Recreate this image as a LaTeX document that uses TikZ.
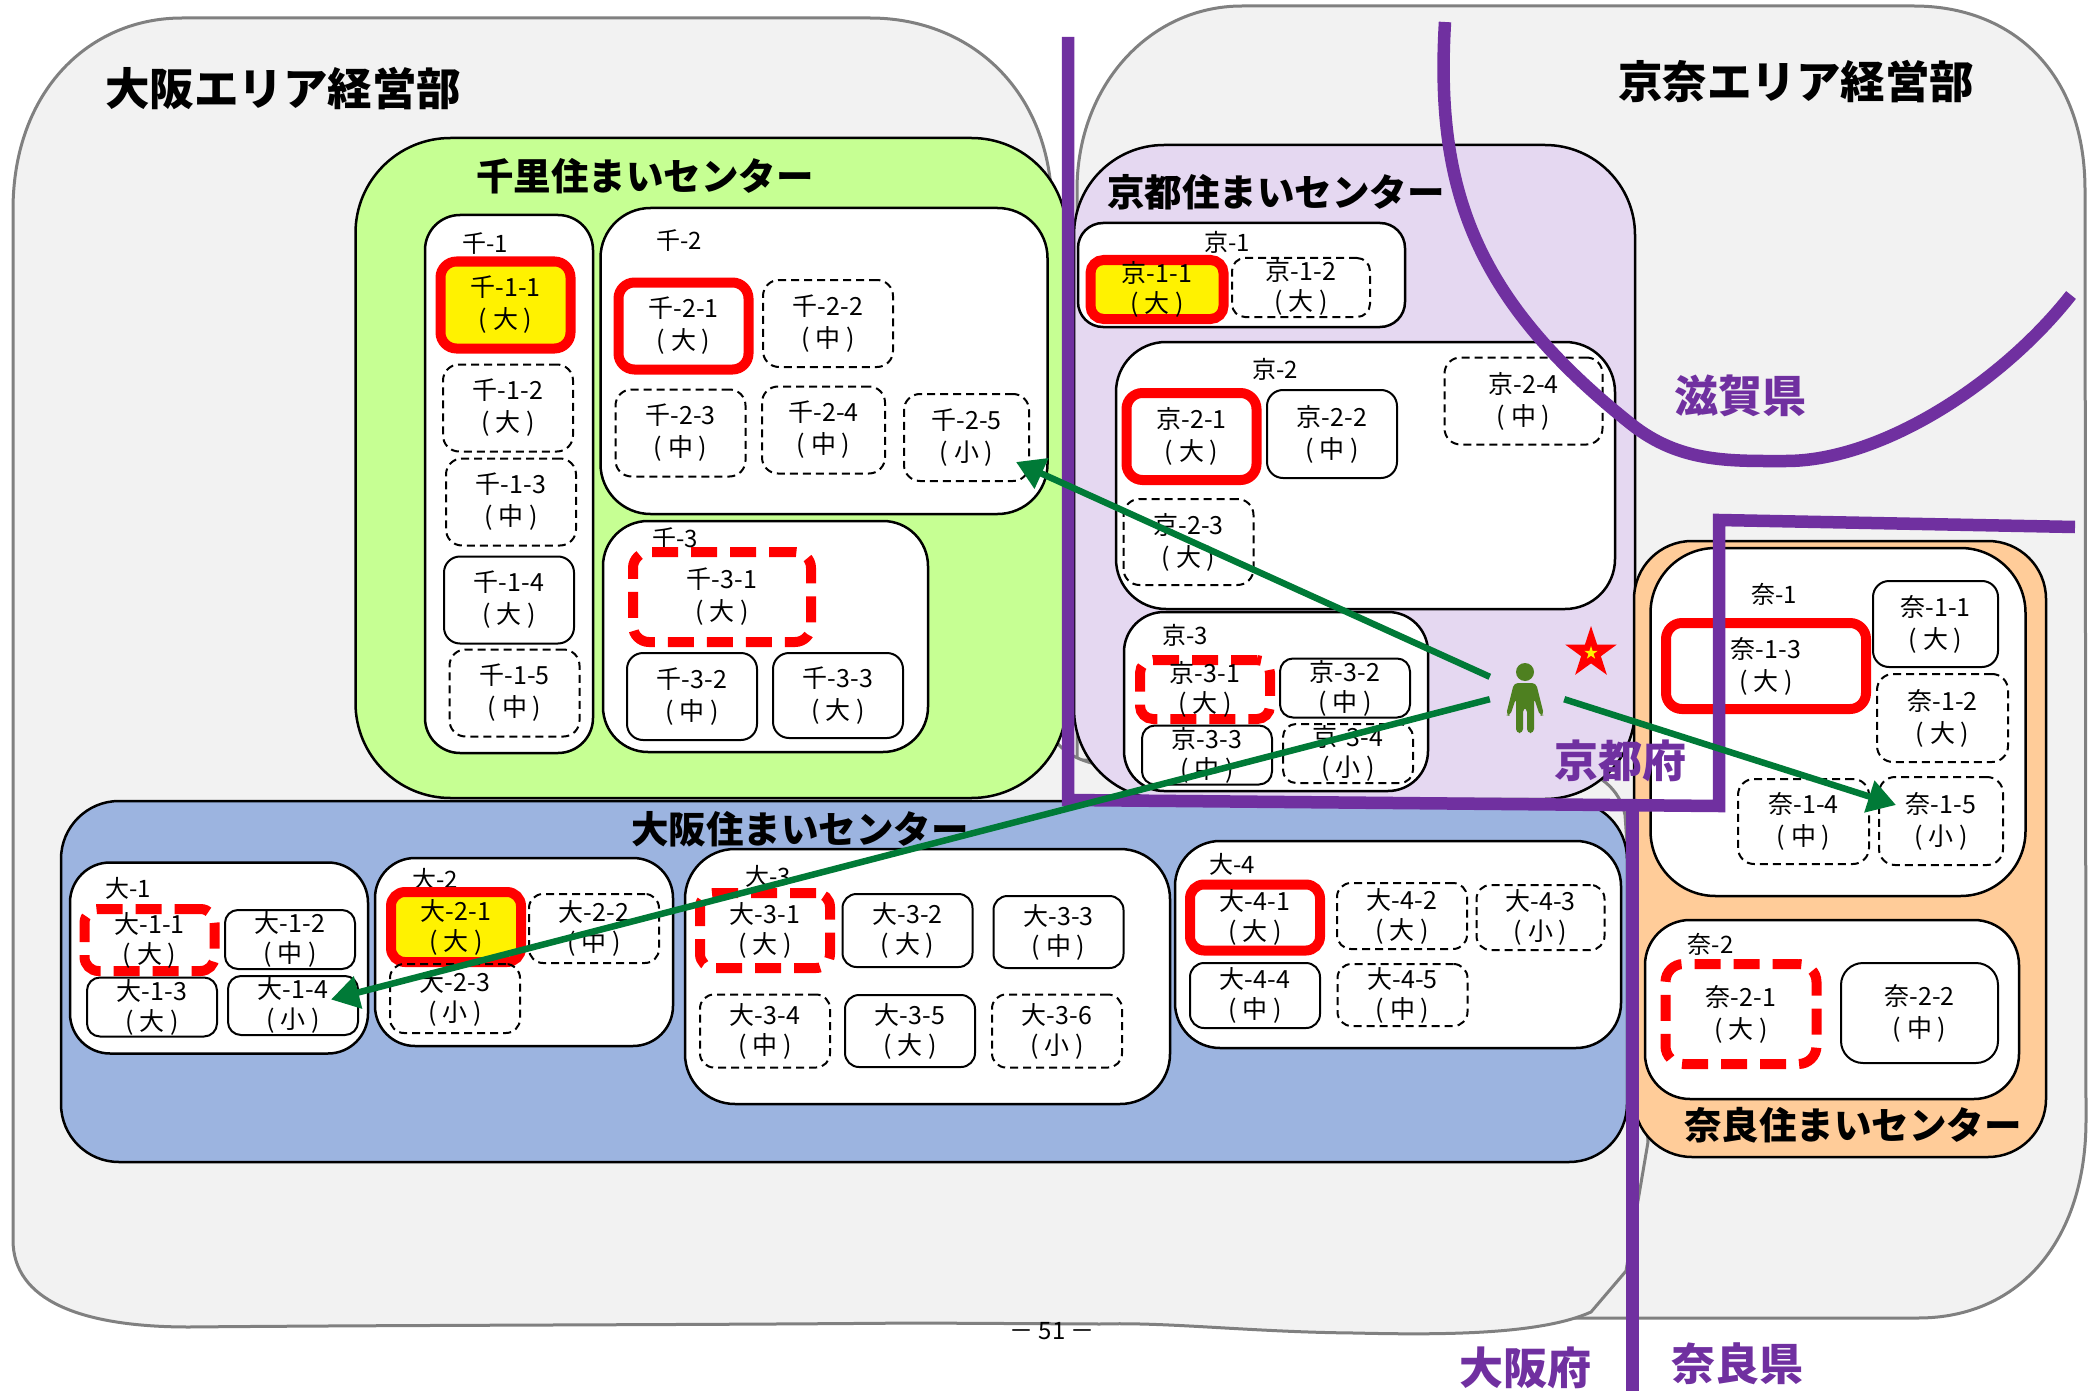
\documentclass[tikz,border=0pt]{standalone}
\usepackage{fontspec}
\setmainfont{Noto Sans CJK JP}
\usetikzlibrary{calc,arrows.meta,shapes.geometric}
\definecolor{areagray}{HTML}{F2F2F2}
\definecolor{senrigreen}{HTML}{C6FF93}
\definecolor{kyotolilac}{HTML}{E5D8F1}
\definecolor{osakablue}{HTML}{9CB4E0}
\definecolor{naraorange}{HTML}{FFCC99}
\definecolor{borderpurple}{HTML}{7030A0}
\definecolor{arrowgreen}{HTML}{007A37}
\definecolor{persongreen}{HTML}{4E8020}

\begin{document}
\begin{tikzpicture}[x=1pt,y=-1pt,
        area/.style={draw=black!50,line width=3pt,fill=areagray},
        hub/.style={draw=black,line width=2.5pt,inner sep=0pt},
        group/.style={hub,fill=white,line width=2.5pt},
        unit/.style={draw=black,line width=2pt,inner sep=0pt,align=center,rounded corners=16pt,minimum width=130pt,minimum height=87pt,font=\fontsize{25}{32}\selectfont},
        low/.style={minimum height=59pt,rounded corners=13pt,font=\fontsize{25}{30}\selectfont},
        mid/.style={minimum height=#1pt,rounded corners=14pt,font=\fontsize{25}{30}\selectfont},
        thin dash/.style={dash pattern=on 8pt off 5pt},
        big/.style={draw=red,line width=10pt},
        bigdash/.style={big,dash pattern=on 26pt off 13pt},
        lab/.style={inner sep=0pt,font=\fontsize{24}{30}\selectfont},
        hubtitle/.style={inner sep=0pt,font=\fontsize{37.5}{38}\selectfont\bfseries},
        areatitle/.style={inner sep=0pt,font=\fontsize{44.5}{45}\selectfont\bfseries},
        pref/.style={inner sep=0pt,text=borderpurple,font=\fontsize{44}{44}\selectfont\bfseries},
        border/.style={draw=borderpurple,line width=12.5pt},
        walk/.style={draw=arrowgreen,line width=6.5pt,-{Triangle[length=28pt,width=32pt]}}
      ]
  \useasboundingbox (0,0) rectangle (2094,1391);

  % areas
  \draw[area] (1077,190) .. controls (1077,85) and (1150,6) .. (1242,6) -- (1914,6)
    .. controls (2010,6) and (2085,70) .. (2085,190) -- (2086,1120)
    .. controls (2086,1240) and (2020,1318) .. (1918,1318) -- (1575,1318) -- (1575,760) -- (1077,760) -- cycle;
  \draw[area] (13,210) .. controls (13,90) and (90,18) .. (182,18) -- (870,18)
    .. controls (970,18) and (1052,90) .. (1052,210) -- (1052,735)
    .. controls (1060,750) and (1075,760) .. (1100,765) -- (1560,765)
    .. controls (1600,770) and (1620,790) .. (1625,815) -- (1648,1142) -- (1626,1271) -- (1591,1312)
    .. controls (1540,1335) and (1440,1335) .. (1354,1333) .. controls (1250,1332) and (1170,1322) .. (1100,1324)
    -- (912,1323) .. controls (700,1325) and (400,1325) .. (189,1327)
    .. controls (80,1327) and (13,1300) .. (13,1240) -- cycle;
  \node (osakaarea) [areatitle] at (283,89) {大阪エリア経営部};
  \node (keinaarea) [areatitle] at (1796,82) {京奈エリア経営部};

  % centers
  \node (senri) [hub,fill=senrigreen,rounded corners=95pt,minimum width=711pt,minimum height=660pt] at (711,468) {};
  \node (kyoto) [hub,fill=kyotolilac,rounded corners=90pt,minimum width=561pt,minimum height=654pt] at (1354.5,472) {};
  \node (osaka) [hub,fill=osakablue,rounded corners=58pt,minimum width=1566pt,minimum height=361pt] at (844,981.5) {};
  \node (nara) [hub,fill=naraorange,rounded corners=58pt,minimum width=412pt,minimum height=616pt] at (1840,849) {};
  \node (senrititle) [hubtitle] at (645,176) {千里住まいセンター};
  \node (kyototitle) [hubtitle] at (1276,192) {京都住まいセンター};
  \node (osakatitle) [hubtitle] at (800,829) {大阪住まいセンター};
  \node (naratitle) [hubtitle] at (1853,1125) {奈良住まいセンター};

  % senri
  \node (sen1) [group,rounded corners=35pt,minimum width=168pt,minimum height=538pt] at (509,484) {};
  \node (sen2) [group,rounded corners=50pt,minimum width=447pt,minimum height=306pt] at (824,361) {};
  \node (sen3) [group,rounded corners=45pt,minimum width=325pt,minimum height=231pt] at (765.5,636.5) {};
  \node (sen1lab) [lab] at (485,244) {千-1};
  \node (sen2lab) [lab] at (679,241) {千-2};
  \node (sen3lab) [lab] at (675,539) {千-3};
  \node (sen11) [unit,big,fill=yellow] at (505.5,305) {千-1-1\\( 大 )};
  \node (sen12) [unit,thin dash] at (508,408) {千-1-2\\( 大 )};
  \node (sen13) [unit,thin dash] at (511,502) {千-1-3\\( 中 )};
  \node (sen14) [unit] at (509,600) {千-1-4\\( 大 )};
  \node (sen15) [unit,thin dash] at (514.5,693) {千-1-5\\( 中 )};
  \node (sen21) [unit,big] at (683.5,326) {千-2-1\\( 大 )};
  \node (sen22) [unit,thin dash] at (828,323.5) {千-2-2\\( 中 )};
  \node (sen23) [unit,thin dash] at (680.5,433) {千-2-3\\( 中 )};
  \node (sen24) [unit,thin dash,minimum width=123pt] at (823.5,430) {千-2-4\\( 中 )};
  \node (sen25) [unit,thin dash,minimum width=125pt] at (966.5,437.5) {千-2-5\\( 小 )};
  \node (sen31) [unit,bigdash,minimum width=178pt,minimum height=90pt] at (722,597) {千-3-1\\( 大 )};
  \node (sen32) [unit] at (692,696.5) {千-3-2\\( 中 )};
  \node (sen33) [unit,minimum height=85pt] at (838,695.5) {千-3-3\\( 大 )};

  % kyoto
  \node (kyo1) [group,rounded corners=25pt,minimum width=327pt,minimum height=104pt] at (1241.5,275) {};
  \node (kyo2) [group,rounded corners=50pt,minimum width=499pt,minimum height=267pt] at (1365.5,475.5) {};
  \node (kyo3) [group,rounded corners=40pt,minimum width=304pt,minimum height=179pt] at (1276,701.5) {};
  \node (kyo1lab) [lab] at (1227,242) {京-1};
  \node (kyo2lab) [lab] at (1275,369) {京-2};
  \node (kyo3lab) [lab] at (1185,635.5) {京-3};
  \node (kyo11) [unit,low,big,fill=yellow,minimum width=133pt] at (1157,289.5) {京-1-1\\( 大 )};
  \node (kyo12) [unit,low,thin dash,minimum width=138pt] at (1301,287.5) {京-1-2\\( 大 )};
  \node (kyo21) [unit,big] at (1191.5,436.5) {京-2-1\\( 大 )};
  \node (kyo22) [unit,minimum height=88pt] at (1332,434) {京-2-2\\( 中 )};
  \node (kyo23) [unit,thin dash,minimum height=86pt] at (1188.5,542) {京-2-3\\( 大 )};
  \node (kyo24) [unit,thin dash,minimum width=158pt] at (1523.5,401) {京-2-4\\( 中 )};
  \node (kyo31) [unit,low,bigdash] at (1205,689.5) {京-3-1\\( 大 )};
  \node (kyo32) [unit,low] at (1345,688) {京-3-2\\( 中 )};
  \node (kyo33) [unit,low] at (1207,755) {京-3-3\\( 中 )};
  \node (kyo34) [unit,low,thin dash] at (1348,753.5) {京-3-4\\( 小 )};

  % osaka
  \node (dai1) [group,rounded corners=40pt,minimum width=298pt,minimum height=191pt] at (219,958) {};
  \node (dai2) [group,rounded corners=40pt,minimum width=298pt,minimum height=188pt] at (524,952) {};
  \node (dai3) [group,rounded corners=50pt,minimum width=485pt,minimum height=255pt] at (927.5,976.5) {};
  \node (dai4) [group,rounded corners=45pt,minimum width=446pt,minimum height=207pt] at (1398,944.5) {};
  \node (dai1lab) [lab] at (128,888) {大-1};
  \node (dai2lab) [lab] at (435,879) {大-2};
  \node (dai3lab) [lab] at (768,876) {大-3};
  \node (dai4lab) [lab] at (1232,864) {大-4};
  \node (dai11) [unit,mid=62,bigdash] at (149.5,940) {大-1-1\\( 大 )};
  \node (dai12) [unit,low] at (290,939.5) {大-1-2\\( 中 )};
  \node (dai13) [unit,low] at (152,1007) {大-1-3\\( 大 )};
  \node (dai14) [unit,low] at (293,1005.5) {大-1-4\\( 小 )};
  \node (dai21) [unit,mid=70,big,fill=yellow] at (456,927) {大-2-1\\( 大 )};
  \node (dai22) [unit,mid=69,thin dash] at (594,928.5) {大-2-2\\( 中 )};
  \node (dai23) [unit,mid=69,thin dash] at (455,998.5) {大-2-3\\( 小 )};
  \node (dai31) [unit,mid=75,bigdash] at (765,930.5) {大-3-1\\( 大 )};
  \node (dai32) [unit,mid=73] at (907.5,930.5) {大-3-2\\( 大 )};
  \node (dai33) [unit,mid=72] at (1058.5,932) {大-3-3\\( 中 )};
  \node (dai34) [unit,mid=73,thin dash] at (765,1031) {大-3-4\\( 中 )};
  \node (dai35) [unit,mid=72] at (910,1031) {大-3-5\\( 大 )};
  \node (dai36) [unit,mid=73,thin dash] at (1057,1031) {大-3-6\\( 小 )};
  \node (dai41) [unit,mid=66,big] at (1255,917.5) {大-4-1\\( 大 )};
  \node (dai42) [unit,mid=66,thin dash] at (1402,916) {大-4-2\\( 大 )};
  \node (dai43) [unit,mid=65,thin dash,minimum width=128pt] at (1540.5,917.5) {大-4-3\\( 小 )};
  \node (dai44) [unit,mid=65] at (1255,995.5) {大-4-4\\( 中 )};
  \node (dai45) [unit,mid=62,thin dash] at (1402.5,995) {大-4-5\\( 中 )};

  % nara
  \node (nar1) [group,rounded corners=65pt,minimum width=375pt,minimum height=348pt] at (1838,722) {};
  \node (nar2) [group,rounded corners=45pt,minimum width=374pt,minimum height=179pt] at (1832,1009.5) {};
  \node (nar1lab) [lab] at (1774,594) {奈-1};
  \node (nar2lab) [lab] at (1710.5,944.5) {奈-2};
  \node (nar11) [unit,minimum width=125pt,minimum height=86pt] at (1935.5,624) {奈-1-1\\( 大 )};
  \node (nar12) [unit,thin dash,minimum width=131pt,minimum height=88pt] at (1942.5,718) {奈-1-2\\( 大 )};
  \node (nar13) [unit,big,minimum width=200pt,minimum height=86pt] at (1766,666) {奈-1-3\\( 大 )};
  \node (nar14) [unit,thin dash,minimum width=131pt,minimum height=85pt] at (1803.5,821.5) {奈-1-4\\( 中 )};
  \node (nar15) [unit,thin dash,minimum width=124pt,minimum height=88pt] at (1941,821) {奈-1-5\\( 小 )};
  \node (nar21) [unit,bigdash,minimum width=151pt,minimum height=100pt,rounded corners=18pt] at (1741,1014) {奈-2-1\\( 大 )};
  \node (nar22) [unit,minimum width=157pt,minimum height=100pt,rounded corners=22pt] at (1919.5,1013) {奈-2-2\\( 中 )};

  % prefecture borders
  \draw[border] (1068,37) -- (1068,800) -- (1719,806) -- (1719,520) -- (2075,527);
  \draw[border] (1632.5,806) -- (1632.5,1391);
  \draw[border] (1445,22) .. controls (1435,190) and (1475,300) .. (1631,424)
    .. controls (1680,463) and (1730,461) .. (1786,461) .. controls (1880,461) and (2000,385) .. (2071,295);
  \node (shiga) [pref] at (1740,396) {滋賀県};
  \node (kyotofu) [pref] at (1620,761) {京都府};
  \node (osakafu) [pref] at (1525,1368) {大阪府};
  \node (narake) [pref] at (1737,1364) {奈良県};

  \node (page) [inner sep=0pt,font=\fontsize{24}{24}\selectfont] at (1052,1331) {－ 51 －};

  % star and person
  \node (starout) [star,star points=5,star point ratio=2.6,fill=red,inner sep=0pt,minimum size=54pt] at (1591,653) {};
  \node (starin) [star,star points=5,star point ratio=2.6,fill=yellow,inner sep=0pt,minimum size=14pt] at (1591,653) {};
  \fill[persongreen] (1525,672) circle (9);
  \fill[persongreen,rounded corners=4pt] (1514,683) -- (1536,683) -- (1544,715) -- (1540,716) -- (1534,698) -- (1534,733)
    -- (1527,733) -- (1527,708) -- (1523,708) -- (1523,733) -- (1516,733) -- (1516,698) -- (1510,716) -- (1506,715) -- cycle;
  \node (person) [inner sep=0pt,minimum width=74pt,minimum height=22pt] at (1527,688) {};

  \draw[walk] (person.north west) -- ($(sen25.south east)+(-14,-20)$);
  \draw[walk] (person.south west) -- ($(dai14.east)+(-28,-6)$);
  \draw[walk] (person.south east) -- ($(nar15.west)+(18,-16)$);
\end{tikzpicture}
\end{document}
